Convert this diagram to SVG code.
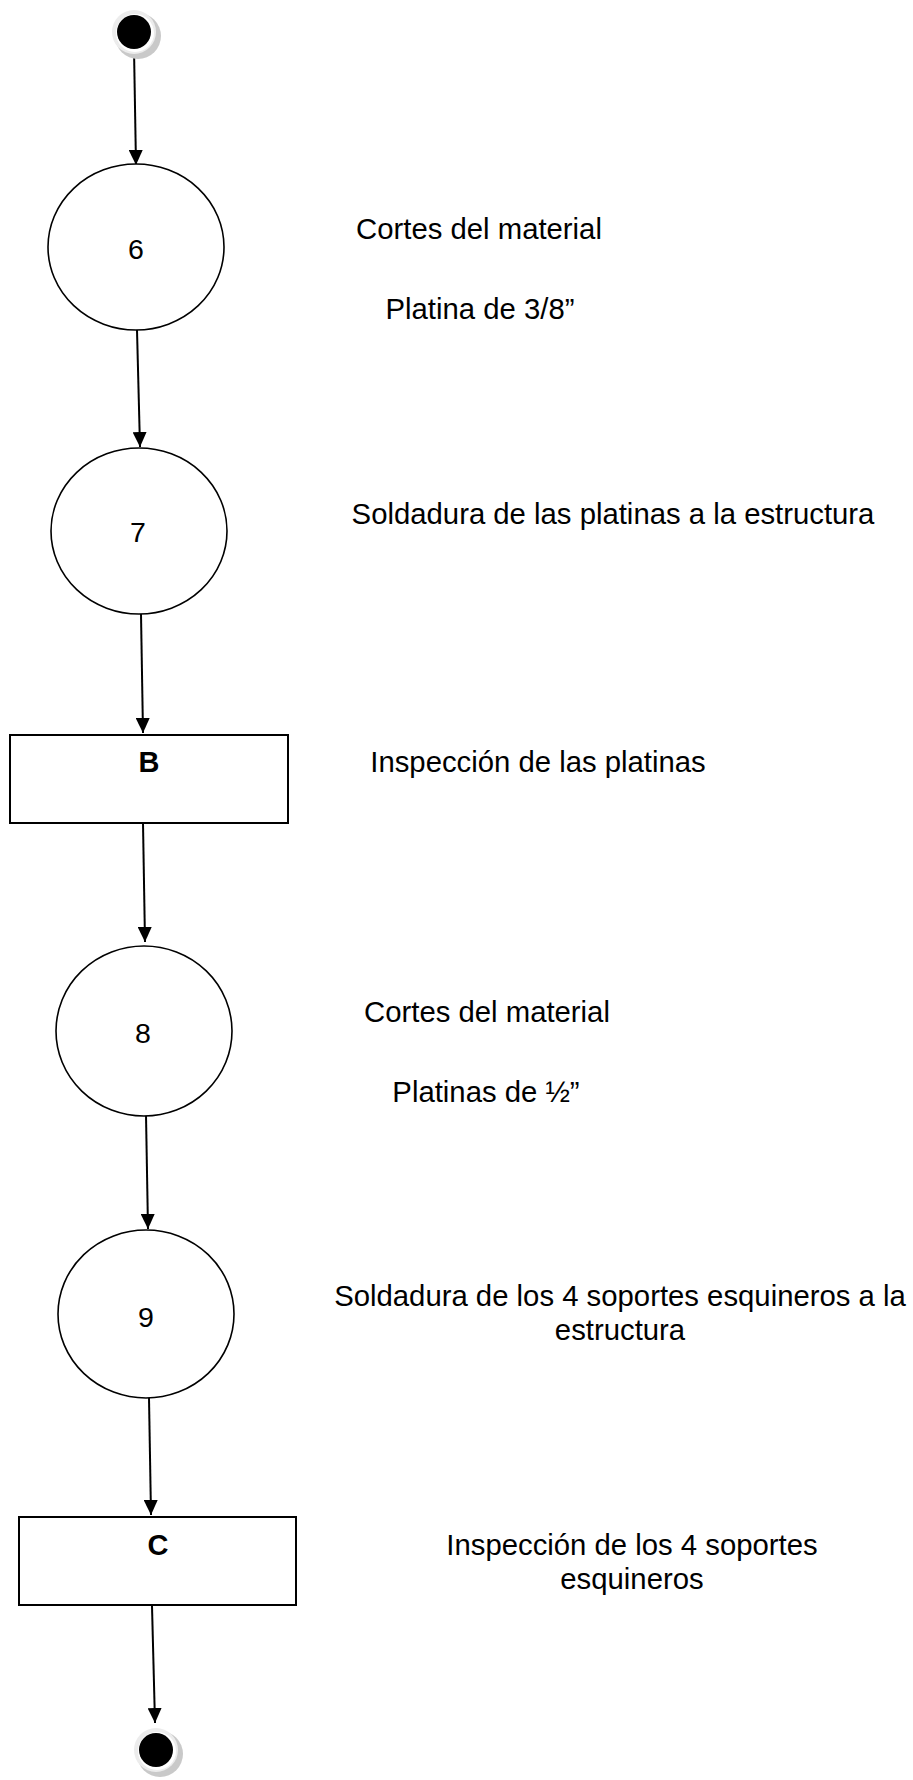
<svg xmlns="http://www.w3.org/2000/svg" width="913" height="1780" viewBox="0 0 913 1780">
<style>
.bg{fill:#ffffff}
.node{fill:#ffffff;stroke:#000000;stroke-width:1.6}
.box{fill:#ffffff;stroke:#000000;stroke-width:2}
.edge{stroke:#000000;stroke-width:2;fill:none}
.num{font-family:"Liberation Sans",Arial,sans-serif;font-size:28.5px;fill:#000000;text-anchor:middle}
.let{font-family:"Liberation Sans",Arial,sans-serif;font-size:29px;font-weight:bold;fill:#000000;text-anchor:middle}
.lbl{font-family:"Liberation Sans",Arial,sans-serif;font-size:29.3px;fill:#000000;text-anchor:middle}
.shadow{fill:#c9c9c9}
.ring{fill:#ececec}
.inner{fill:#ffffff}
.dot{fill:#000000}
</style>
<defs>
<marker id="arrow" markerUnits="userSpaceOnUse" markerWidth="15" markerHeight="14" refX="15" refY="7" orient="auto">
<path d="M0,0 L15,7 L0,14 z" fill="#000000"/>
</marker>
</defs>
<rect class="bg" x="0" y="0" width="913" height="1780"/>

<g id="connectors">
<line class="edge" x1="134" y1="49" x2="136" y2="165" marker-end="url(#arrow)"/>
<line class="edge" x1="137" y1="330" x2="140" y2="447" marker-end="url(#arrow)"/>
<line class="edge" x1="141" y1="614" x2="143" y2="733" marker-end="url(#arrow)"/>
<line class="edge" x1="143" y1="823" x2="145" y2="942" marker-end="url(#arrow)"/>
<line class="edge" x1="146" y1="1115" x2="148" y2="1229" marker-end="url(#arrow)"/>
<line class="edge" x1="149" y1="1398" x2="151" y2="1515" marker-end="url(#arrow)"/>
<line class="edge" x1="152" y1="1606" x2="155" y2="1723" marker-end="url(#arrow)"/>
</g>

<g id="start">
<circle class="shadow" cx="138" cy="36" r="23"/>
<circle class="ring" cx="134" cy="32" r="22"/>
<circle class="inner" cx="135" cy="33" r="19"/>
<circle class="dot" cx="134" cy="32" r="17"/>
</g>

<g id="op6">
<ellipse class="node" cx="136" cy="247" rx="88" ry="83"/>
<text class="num" x="136" y="259">6</text>
</g>
<g id="label6">
<text class="lbl" x="479" y="239">Cortes del material</text>
<text class="lbl" x="480" y="319">Platina de 3/8”</text>
</g>

<g id="op7">
<ellipse class="node" cx="139" cy="531" rx="88" ry="83"/>
<text class="num" x="138" y="542">7</text>
</g>
<g id="label7">
<text class="lbl" x="613" y="524">Soldadura de las platinas a la estructura</text>
</g>

<g id="inspB">
<rect class="box" x="10" y="735" width="278" height="88"/>
<text class="let" x="149" y="772">B</text>
</g>
<g id="labelB">
<text class="lbl" x="538" y="772">Inspección de las platinas</text>
</g>

<g id="op8">
<ellipse class="node" cx="144" cy="1031" rx="88" ry="85"/>
<text class="num" x="143" y="1043">8</text>
</g>
<g id="label8">
<text class="lbl" x="487" y="1022">Cortes del material</text>
<text class="lbl" x="486" y="1102">Platinas de ½”</text>
</g>

<g id="op9">
<ellipse class="node" cx="146" cy="1314" rx="88" ry="84"/>
<text class="num" x="146" y="1327">9</text>
</g>
<g id="label9">
<text class="lbl" x="620" y="1306">Soldadura de los 4 soportes esquineros a la</text>
<text class="lbl" x="620" y="1340">estructura</text>
</g>

<g id="inspC">
<rect class="box" x="19" y="1517" width="277" height="88"/>
<text class="let" x="158" y="1555">C</text>
</g>
<g id="labelC">
<text class="lbl" x="632" y="1555">Inspección de los 4 soportes</text>
<text class="lbl" x="632" y="1589">esquineros</text>
</g>

<g id="end">
<circle class="shadow" cx="160" cy="1754" r="23"/>
<circle class="ring" cx="156" cy="1750" r="22"/>
<circle class="inner" cx="157" cy="1751" r="19"/>
<circle class="dot" cx="156" cy="1750" r="17"/>
</g>
</svg>
